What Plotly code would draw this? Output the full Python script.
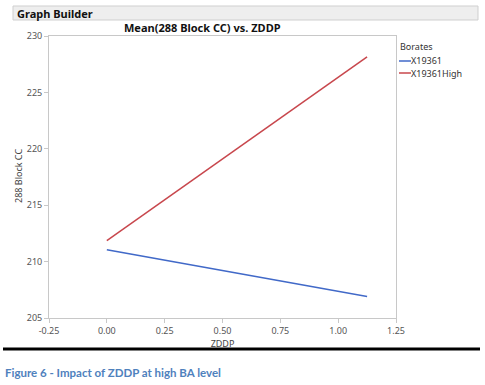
import plotly.graph_objects as go

# ---- data ----
zddp = [0.0, 1.125]
series_names = ["X19361", "X19361High"]
blue_vals = [211.05, 206.9]
red_vals = [211.85, 228.15]
x_ticks = [-0.25, 0.0, 0.25, 0.5, 0.75, 1.0, 1.25]
x_tick_labels = ["-0.25", "0.00", "0.25", "0.50", "0.75", "1.00", "1.25"]
y_ticks = [205, 210, 215, 220, 225, 230]

W, H = 485, 385
L, R, T, B = 49, 396, 36, 318
colors = ["#4169c8", "#c8474d"]
FONT = "Noto Sans"

def px(x):
    return (x - L) / (R - L)

def py(y):
    return (B - y) / (B - T)

fig = go.Figure()
for name, vals, c in zip(series_names, [blue_vals, red_vals], colors):
    fig.add_trace(go.Scatter(x=zddp, y=vals, mode="lines", name=name,
                             line=dict(color=c, width=1.5), showlegend=False))

shapes = []
annotations = []
# header bar
shapes.append(dict(type="rect", xref="paper", yref="paper", x0=px(13), x1=px(478),
                   y0=py(20), y1=py(6), fillcolor="#eeeeee",
                   line=dict(color="#cfcfcf", width=1), layer="below"))
annotations.append(dict(text="<b>Graph Builder</b>", xref="paper", yref="paper",
                        x=px(15), y=py(13), xanchor="left", yanchor="middle", showarrow=False,
                        font=dict(family=FONT, size=11, color="#111111")))
# title
annotations.append(dict(text="<b>Mean(288 Block CC) vs. ZDDP</b>", xref="paper", yref="paper",
                        x=px(202), y=py(28), xanchor="center", yanchor="middle", showarrow=False,
                        font=dict(family=FONT, size=11, color="#111111")))
# y axis title
annotations.append(dict(text="288 Block CC", xref="paper", yref="paper", textangle=-90,
                        x=px(18), y=py(176), xanchor="center", yanchor="middle", showarrow=False,
                        font=dict(family=FONT, size=9, color="#444444")))
# legend (custom)
annotations.append(dict(text="Borates", xref="paper", yref="paper",
                        x=px(398), y=py(46), xanchor="left", yanchor="middle", showarrow=False,
                        font=dict(family=FONT, size=9, color="#333333")))
for i, (name, c) in enumerate(zip(series_names, colors)):
    yy = 61 + 12 * i
    shapes.append(dict(type="line", xref="paper", yref="paper", x0=px(399), x1=px(411),
                       y0=py(yy), y1=py(yy), line=dict(color=c, width=1.5)))
    annotations.append(dict(text=name, xref="paper", yref="paper",
                            x=px(410), y=py(yy), xanchor="left", yanchor="middle", showarrow=False,
                            borderpad=0,
                            font=dict(family=FONT, size=9, color="#333333")))
# separator black line
shapes.append(dict(type="line", xref="paper", yref="paper", x0=px(3), x1=px(480),
                   y0=py(349), y1=py(349), line=dict(color="#000000", width=3)))
# caption
annotations.append(dict(text="<b>Figure 6 - Impact of ZDDP at high BA level</b>", xref="paper", yref="paper",
                        x=px(3), y=py(373), xanchor="left", yanchor="middle", showarrow=False,
                        font=dict(family="Lato", size=11.5, color="#4f81bd")))

fig.update_layout(
    width=W, height=H,
    margin=dict(l=L, r=W - R, t=T, b=H - B, pad=0),
    paper_bgcolor="white", plot_bgcolor="white",
    shapes=shapes, annotations=annotations,
    font=dict(family=FONT, size=9, color="#555555"),
)
fig.update_xaxes(range=[-0.25, 1.25], tickvals=x_ticks, ticktext=x_tick_labels,
                 showgrid=False, zeroline=False, showline=True, linecolor="#c8c8c8",
                 mirror=True, ticks="outside", ticklen=4, tickcolor="#c8c8c8",
                 tickfont=dict(size=9, color="#555555"),
                 title=dict(text="ZDDP", font=dict(size=9, color="#444444"), standoff=1))
fig.update_yaxes(range=[205, 230], tickvals=y_ticks,
                 showgrid=False, zeroline=False, showline=True, linecolor="#c8c8c8",
                 mirror=True, ticks="outside", ticklen=4, tickcolor="#c8c8c8",
                 tickfont=dict(size=9, color="#555555"))

fig.write_html("out.html", config={"displayModeBar": False},
               post_script="document.body.style.margin='0';document.body.style.padding='0';")
